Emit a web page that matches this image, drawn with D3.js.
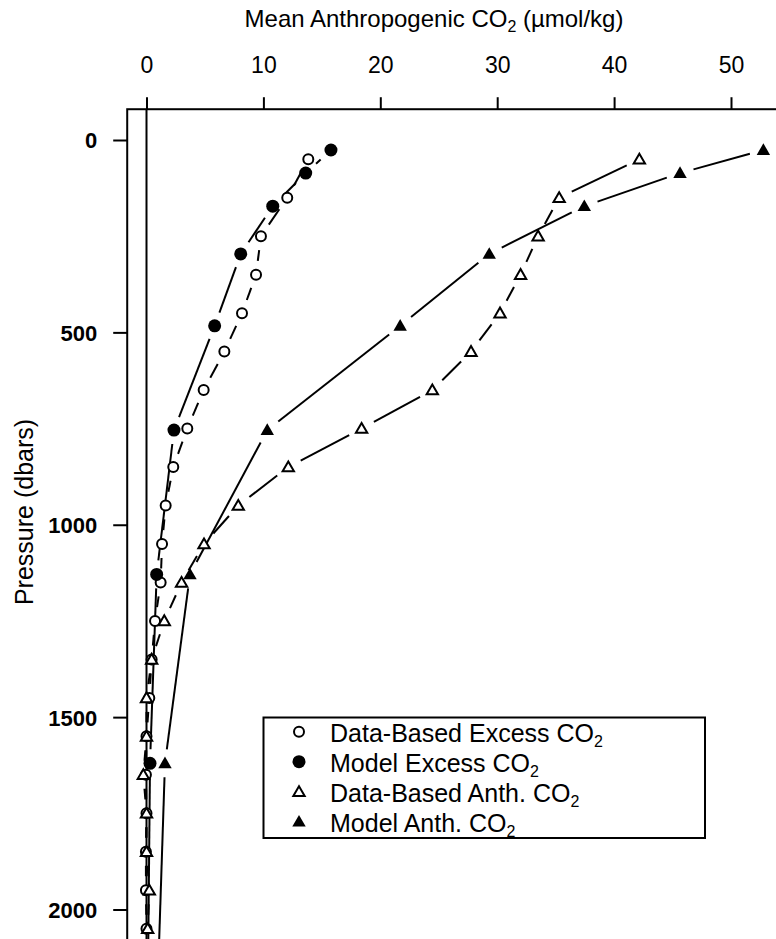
<!DOCTYPE html>
<html>
<head>
<meta charset="utf-8">
<script src="https://cdn.jsdelivr.net/npm/d3@7"></script>
<style>
  body { margin: 0; background: #fff; }
  text { font-family: "Liberation Sans", Arial, Helvetica, sans-serif; fill: #000; }
</style>
</head>
<body>
<svg width="776" height="939"></svg>
<script>
// data
var pressData = [50, 150, 250, 350, 450, 550, 650, 750, 850, 950, 1050,
                 1150, 1250, 1350, 1450, 1550, 1650, 1750, 1850, 1950, 2050];
var excessData = [13.84, 12.04, 9.79, 9.37, 8.17, 6.66, 4.89, 3.49, 2.29, 1.64, 1.33,
                  1.21, 0.73, 0.44, 0.24, 0.0, -0.05, 0.0, -0.05, -0.05, 0.0];
var anthData = [42.16, 35.3, 33.5, 32.0, 30.24, 27.76, 24.45, 18.4, 12.13, 7.85, 4.92,
                3.0, 1.52, 0.44, 0.0, 0.0, -0.27, 0.0, 0.0, 0.24, 0.1];

var pressModel = [26, 86, 172, 296, 483, 754, 1129, 1620, 2250];
var excessModel = [15.78, 13.62, 10.8, 8.06, 5.83, 2.35, 0.87, 0.3, 0.1];
var anthModel = [52.77, 45.64, 37.45, 29.32, 21.7, 10.33, 3.72, 1.58, 0.9];

var xTicks = [0, 10, 20, 30, 40, 50];
var yTicks = [0, 500, 1000, 1500, 2000];

var legendLabels = ["Data-Based Excess CO", "Model Excess CO", "Data-Based Anth. CO", "Model Anth. CO"];

(function () {
  'use strict';

  var svg = d3.select("svg");

  var x = d3.scaleLinear().domain([0, 50]).range([146.5, 731]);
  var y = d3.scaleLinear().domain([0, 2000]).range([140, 909.5]);

  // plot box limits (box runs past the right and bottom edges of the picture)
  var xlim = [-1.65, 55], ylim = [-80, 2120];
  var bx0 = x(xlim[0]), bx1 = x(xlim[1]), by0 = y(ylim[0]), by1 = y(ylim[1]);

  svg.append("defs").append("clipPath").attr("id", "plotclip")
    .append("rect").attr("x", bx0).attr("y", by0)
    .attr("width", bx1 - bx0).attr("height", by1 - by0);

  // box
  svg.append("rect")
    .attr("x", bx0).attr("y", by0)
    .attr("width", bx1 - bx0).attr("height", by1 - by0)
    .attr("fill", "none").attr("stroke", "#000").attr("stroke-width", 2);

  // top axis
  var xAxis = d3.axisTop(x).tickValues(xTicks).tickSize(12).tickPadding(24).tickFormat(d3.format("d"));
  var gx = svg.append("g").attr("transform", "translate(0," + by0 + ")").call(xAxis);
  gx.select(".domain").remove();
  gx.selectAll(".tick line").attr("stroke-width", 2);
  gx.selectAll(".tick text").attr("font-size", 23).attr("dy", 0)
    .attr("font-family", "Liberation Sans, Arial, sans-serif");

  // left axis
  var yAxis = d3.axisLeft(y).tickValues(yTicks).tickSize(14).tickPadding(16).tickFormat(d3.format("d"));
  var gy = svg.append("g").attr("transform", "translate(" + bx0 + ",0)").call(yAxis);
  gy.select(".domain").remove();
  gy.selectAll(".tick line").attr("stroke-width", 2);
  gy.selectAll(".tick text").attr("font-size", 22).attr("font-weight", "bold").attr("dy", "0.36em")
    .attr("font-family", "Liberation Sans, Arial, sans-serif");

  // titles
  var title = svg.append("text").attr("x", 434).attr("y", 27)
    .attr("text-anchor", "middle").attr("font-size", 24);
  title.append("tspan").text("Mean Anthropogenic CO");
  title.append("tspan").attr("font-size", 16).attr("dy", 5).text("2");
  title.append("tspan").attr("dy", -5).text(" (\u00b5mol/kg)");

  svg.append("text")
    .attr("transform", "translate(33,512) rotate(-90)")
    .attr("text-anchor", "middle").attr("font-size", 25)
    .text("Pressure (dbars)");

  var plot = svg.append("g").attr("clip-path", "url(#plotclip)");

  // zero reference line
  plot.append("line")
    .attr("x1", x(0)).attr("x2", x(0)).attr("y1", by0).attr("y2", by1)
    .attr("stroke", "#000").attr("stroke-width", 2);

  // lines with gaps round the points
  var gap = 14;
  function gappedLine(px, py) {
    var segs = [];
    for (var i = 0; i < px.length - 1; i++) {
      var x1 = x(px[i]), y1 = y(py[i]), x2 = x(px[i + 1]), y2 = y(py[i + 1]);
      var dx = x2 - x1, dy = y2 - y1, len = Math.sqrt(dx * dx + dy * dy);
      if (len <= 2 * gap) continue;
      var ux = dx / len, uy = dy / len;
      segs.push([[x1 + ux * gap, y1 + uy * gap], [x2 - ux * gap, y2 - uy * gap]]);
    }
    plot.append("g").selectAll("path").data(segs).enter().append("path")
      .attr("d", d3.line())
      .attr("fill", "none").attr("stroke", "#000").attr("stroke-width", 2);
  }

  gappedLine(excessData, pressData);
  gappedLine(excessModel, pressModel);
  gappedLine(anthData, pressData);
  gappedLine(anthModel, pressModel);

  var triOpen = d3.symbol().type(d3.symbolTriangle).size(56);
  var triFilled = d3.symbol().type(d3.symbolTriangle).size(78);

  function drawMarker(g, kind, cx, cy) {
    if (kind === 0) {
      g.append("circle").attr("cx", cx).attr("cy", cy).attr("r", 5)
        .attr("fill", "#fff").attr("stroke", "#000").attr("stroke-width", 2);
    } else if (kind === 1) {
      g.append("circle").attr("cx", cx).attr("cy", cy).attr("r", 6.5).attr("fill", "#000");
    } else if (kind === 2) {
      g.append("path").attr("d", triOpen).attr("transform", "translate(" + cx + "," + (cy + 1) + ")")
        .attr("fill", "#fff").attr("stroke", "#000").attr("stroke-width", 2);
    } else {
      g.append("path").attr("d", triFilled).attr("transform", "translate(" + cx + "," + (cy + 1) + ")")
        .attr("fill", "#000");
    }
  }

  var pts = plot.append("g");
  var series = [
    [excessData, pressData, 0],
    [anthData, pressData, 2],
    [excessModel, pressModel, 1],
    [anthModel, pressModel, 3]
  ];
  series.forEach(function (s) {
    s[0].forEach(function (v, i) { drawMarker(pts, s[2], x(v), y(s[1][i])); });
  });

  // legend
  var leg = svg.append("g");
  leg.append("rect").attr("x", 263.5).attr("y", 717.5).attr("width", 441.5).attr("height", 120.5)
    .attr("fill", "#fff").attr("stroke", "#000").attr("stroke-width", 2);
  legendLabels.forEach(function (lab, i) {
    var cy = 731.7 + i * 30;
    drawMarker(leg, i, 299, cy);
    var t = leg.append("text").attr("x", 330).attr("y", cy + 10).attr("font-size", 25);
    t.append("tspan").text(lab);
    t.append("tspan").attr("font-size", 16).attr("dy", 5).text("2");
  });
}());
</script>
</body>
</html>
